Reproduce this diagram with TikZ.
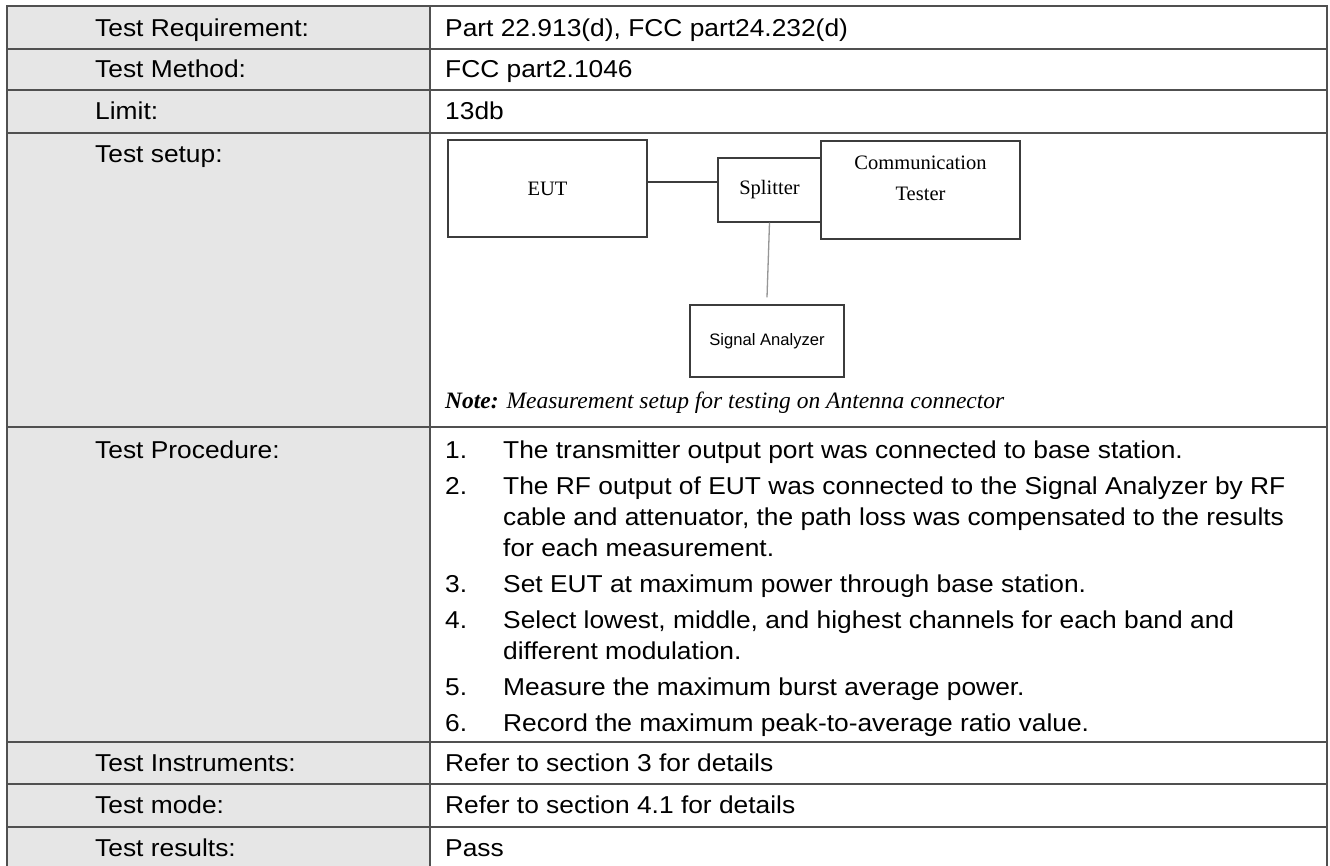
\documentclass[tikz,border=0pt]{standalone}
\usepackage{fontspec}
\setmainfont{Liberation Serif}
\newfontfamily\tabfont{Liberation Sans}[FakeStretch=1.08]
\newfontfamily\diagsans{Liberation Sans}
\newfontfamily\diagserif{Liberation Serif}
\definecolor{cellgray}{RGB}{230,230,230}
\definecolor{rulecol}{RGB}{80,80,80}
\definecolor{boxline}{RGB}{60,60,60}
\definecolor{wirecol}{RGB}{150,150,150}
\begin{document}
\begin{tikzpicture}[x=1pt,y=-1pt,
  txt/.style={anchor=base west, inner sep=0pt, font={\tabfont\fontsize{24.4}{31}\selectfont}},
  tabrule/.style={draw=rulecol, line width=1.6pt},
  dbox/.style={draw=boxline, line width=1.3pt, inner sep=0pt, font={\diagserif\fontsize{20.5}{24}\selectfont}},
  wire/.style={draw=boxline, line width=1.2pt},
  ]
\useasboundingbox (0,0) rectangle (1330,866);
\fill[white] (0,0) rectangle (1330,866);
% table
\fill[cellgray] (7,6) rectangle (430,880);
\draw[tabrule] (7,880) -- (7,6) -- (1327,6) -- (1327,880);
\draw[tabrule] (430,6) -- (430,880);
\foreach \yy in {49,90,133,427,742,784,827}
  \draw[tabrule] (7,\yy) -- (1327,\yy);
% left labels
\node[txt] (l1) at (95,36.5) {Test Requirement:};
\node[txt] (l2) at (95,78) {Test Method:};
\node[txt] (l3) at (95,119.5) {Limit:};
\node[txt] (l4) at (95,162.5) {Test setup:};
\node[txt] (l5) at (95,458.5) {Test Procedure:};
\node[txt] (l6) at (95,771.5) {Test Instruments:};
\node[txt] (l7) at (95,813.5) {Test mode:};
\node[txt] (l8) at (95,856.5) {Test results:};
% right values
\node[txt] (r1) at (445,36.5) {Part 22.913(d), FCC part24.232(d)};
\node[txt] (r2) at (445,78) {FCC part2.1046};
\node[txt] (r3) at (445,119.5) {13db};
\node[txt] (r6) at (445,771.5) {Refer to section 3 for details};
\node[txt] (r7) at (445,813.5) {Refer to section 4.1 for details};
\node[txt] (r8) at (445,856.5) {Pass};
% procedure
\node[txt] (n1) at (445,458.5) {1.};
\node[txt] (p1) at (503,458.5) {The transmitter output port was connected to base station.};
\node[txt] (n2) at (445,494.5) {2.};
\node[txt] (p2a) at (503,494.5) {The RF output of EUT was connected to the Signal Analyzer by RF};
\node[txt] (p2b) at (503,525.5) {cable and attenuator, the path loss was compensated to the results};
\node[txt] (p2c) at (503,556.5) {for each measurement.};
\node[txt] (n3) at (445,592.5) {3.};
\node[txt] (p3) at (503,592.5) {Set EUT at maximum power through base station.};
\node[txt] (n4) at (445,628.5) {4.};
\node[txt] (p4a) at (503,628.5) {Select lowest, middle, and highest channels for each band and};
\node[txt] (p4b) at (503,659.5) {different modulation.};
\node[txt] (n5) at (445,695.5) {5.};
\node[txt] (p5) at (503,695.5) {Measure the maximum burst average power.};
\node[txt] (n6) at (445,731.5) {6.};
\node[txt] (p6) at (503,731.5) {Record the maximum peak-to-average ratio value.};
% setup diagram
\node[dbox, minimum width=199, minimum height=97] (eut) at (547.5,188.5) {EUT};
\node[dbox, minimum width=103, minimum height=64] (spl) at (769.5,190) {Splitter};
\node[dbox, minimum width=199, minimum height=98] (comm) at (920.5,190) {};
\node[inner sep=0pt, align=center, font={\diagserif\fontsize{20.5}{31}\selectfont}] (commtxt) at (920.5,178.5) {Communication\\Tester};
\node[dbox, minimum width=154, minimum height=72, font={\diagsans\fontsize{16.6}{20}\selectfont}] (sa) at (767,341) {Signal Analyzer};
\draw[wire] ([yshift=6.5pt]eut.east) -- ([yshift=8pt]spl.west);
\draw[draw=wirecol, line width=1.3pt] (spl.south) -- ([yshift=7pt]sa.north);
\node[anchor=base west, inner sep=0pt, font={\diagserif\itshape\fontsize{23.5}{28}\selectfont}] (note) at (445,408) {\textbf{Note:} Measurement setup for testing on Antenna connector};
\end{tikzpicture}
\end{document}
